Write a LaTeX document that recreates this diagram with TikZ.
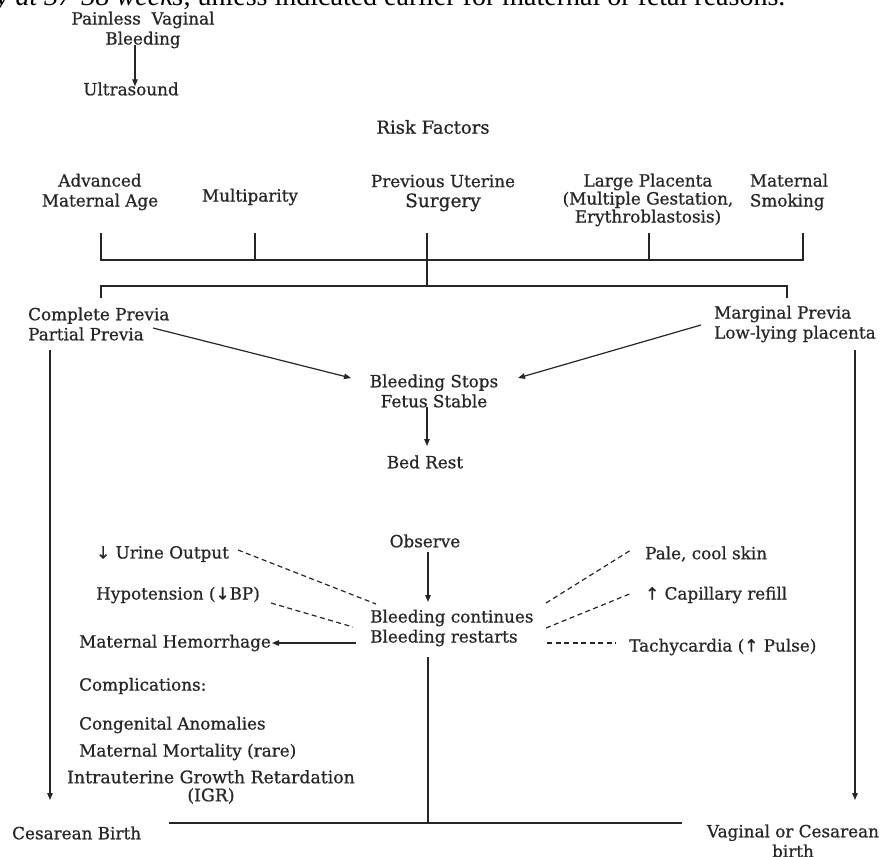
\documentclass[tikz,border=0pt]{standalone}
\usepackage{fontspec}
\setmainfont{DejaVu Serif}[BoldFont={DejaVu Serif}, BoldFeatures={FakeBold=0.7}]
\newfontfamily\timesfont{Liberation Serif}
\newfontfamily\symfont{DejaVu Sans}[BoldFont={DejaVu Sans}, BoldFeatures={FakeBold=0.7}]
\usetikzlibrary{arrows.meta,calc}
\definecolor{ink}{gray}{0.15}
\newcommand{\dn}{{\symfont ↓}}
\newcommand{\up}{{\symfont ↑}}
\begin{document}
\begin{tikzpicture}[x=1pt,y=-1pt,
  lbl/.style={inner sep=0pt, align=center, text=ink, font=\bfseries\fontsize{16.8}{20}\selectfont},
  lbll/.style={lbl, align=left},
  arr/.style={draw=ink, line width=1.2pt, -{Triangle[length=7pt,width=5.5pt]}},
  ln/.style={draw=ink, line width=1.2pt},
  dsh/.style={draw=ink, line width=1.2pt, dash pattern=on 5pt off 3.5pt}]
\useasboundingbox (0,0) rectangle (887,857);
\clip (0,0) rectangle (887,857);
\fill[white] (0,0) rectangle (887,857);

% cut-off top line
\node[anchor=base west, inner sep=0pt, font=\timesfont\fontsize{28}{30}\selectfont] (top) at (-4,5) {\textit{y at 37-38 weeks,} unless indicated earlier for maternal or fetal reasons.};

% start
\node[lbl] (pvb) at (143,30) {Painless\ \ Vaginal\\Bleeding};
\node[lbl] (us) at (131,89) {Ultrasound};
\draw[arr] ($(pvb.south)+(-8,-3)$) -- ($(us.north)+(4,4)$);

% risk factors
\node[lbl, font=\bfseries\fontsize{18}{20}\selectfont] (rf) at (433,127) {Risk Factors};
\node[lbl] (adv) at (100,192) {Advanced\\Maternal Age};
\node[lbl] (mul) at (250,197) {Multiparity};
\node[lbl] (pus) at (443,193) {Previous Uterine\\{\fontsize{18.5}{20}\selectfont Surgery}};
\node[lbl, font=\bfseries\fontsize{16.8}{18}\selectfont] (lp) at (648,200) {Large Placenta\\(Multiple Gestation,\\Erythroblastosis)};
\node[lbll] (ms) at (789,192) {Maternal\\Smoking};

\coordinate (j1) at (101,260);
\coordinate (j2) at (255,260);
\coordinate (j3) at (427,260);
\coordinate (j4) at (649,260);
\coordinate (j5) at (803,260);
\draw[ln] ($(j1)+(0,-27)$) -- (j1) -- (j5) -- ($(j5)+(0,-27)$);
\draw[ln] ($(j2)+(0,-27)$) -- (j2);
\draw[ln] ($(j4)+(0,-27)$) -- (j4);
\coordinate (k) at (427,286);
\coordinate (kL) at (101,286);
\coordinate (kR) at (787,286);
\draw[ln] ($(j3)+(0,-27)$) -- (k);
\draw[ln] ($(kL)+(0,12)$) -- (kL) -- (kR) -- ($(kR)+(0,12)$);

% previa types
\node[lbll, anchor=west] (cp) at (28,324) {Complete Previa\\Partial Previa};
\node[lbll, anchor=west] (mp) at (714,324) {Marginal Previa\\Low-lying placenta};
\node[lbl] (bs) at (434,391) {Bleeding Stops\\Fetus Stable};
\node[lbl] (br) at (425,462) {Bed Rest};
\draw[arr] ($(cp.west)+(125,4)$) -- ($(bs.center)+(-83,-13)$);
\draw[arr] ($(mp.west)+(-13,1)$) -- ($(bs.center)+(84,-13)$);
\draw[arr] ($(bs.center)+(-7,16)$) -- ($(br.center)+(2,-16)$);

% observe
\node[lbl] (obs) at (425,541) {Observe};
\node[lbll, anchor=west] (bc) at (370,628) {Bleeding continues\\Bleeding restarts};
\draw[arr] ($(obs.center)+(3,11)$) -- ($(bc.west)+(58,-26)$);

\node[lbll, anchor=west] (uo) at (96,554) {\dn\ Urine Output};
\node[lbll, anchor=west] (hy) at (96,595) {Hypotension (\dn BP)};
\node[lbll, anchor=west] (mh) at (79,643) {Maternal Hemorrhage};
\node[lbll, anchor=west] (pcs) at (645,554) {Pale, cool skin};
\node[lbll, anchor=west] (cap) at (645,595) {\up\ Capillary refill};
\node[lbll, anchor=west] (tach) at (629,647) {Tachycardia (\up\ Pulse)};

\draw[dsh] ($(uo.west)+(142,-4)$) -- ($(bc.west)+(6,-24)$);
\draw[dsh] ($(hy.west)+(175,8)$) -- ($(bc.west)+(-17,-1)$);
\draw[arr] ($(bc.west)+(-14,15)$) -- ($(mh.west)+(193,0)$);
\draw[dsh] ($(bc.west)+(176,-25)$) -- ($(pcs.west)+(-14,-4)$);
\draw[dsh] ($(bc.west)+(176,0)$) -- ($(cap.west)+(-13,-2)$);
\draw[dsh] ($(bc.west)+(177,15)$) -- ($(tach.west)+(-13,-4)$);

% complications
\node[lbll, anchor=west] (comp) at (79,686) {Complications:};
\node[lbll, anchor=west] (ca) at (79,725) {Congenital Anomalies};
\node[lbll, anchor=west] (mm) at (79,752) {Maternal Mortality (rare)};
\node[lbl, font=\bfseries\fontsize{17.3}{18}\selectfont] (igr) at (211,787) {Intrauterine Growth Retardation\\(IGR)};

% births
\node[lbll, anchor=west] (cb) at (12,833) {Cesarean Birth};
\node[lbl] (vcb) at (793,841) {Vaginal or Cesarean\\birth};

\draw[arr] ($(cp.west)+(22,26)$) -- ($(cb.west)+(38,-33)$);
\draw[arr] ($(mp.west)+(141,26)$) -- ($(vcb.center)+(62,-41)$);
\coordinate (jb) at (428,823);
\draw[ln] ($(bc.west)+(58,29)$) -- (jb);
\draw[ln] ($(cb.west)+(157,-10)$) -- ($(vcb.center)+(-111,-18)$);
\end{tikzpicture}
\end{document}
